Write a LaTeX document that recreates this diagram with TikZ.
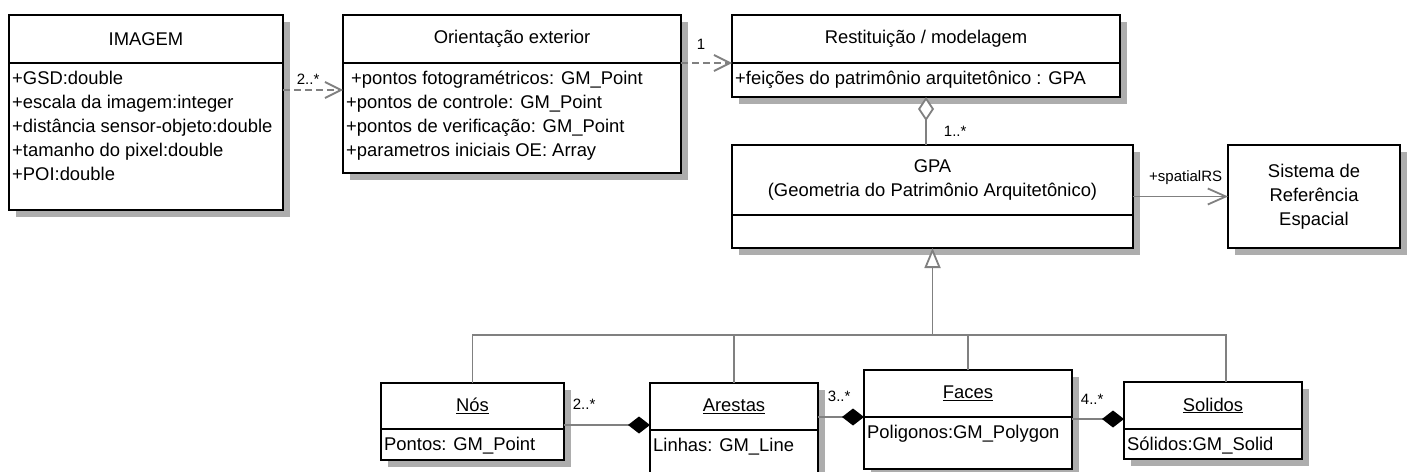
\documentclass[tikz,border=0pt]{standalone}
\usepackage{fontspec}
\setmainfont{Liberation Sans}
\usetikzlibrary{arrows.meta, positioning, backgrounds}

\begin{document}
\begin{tikzpicture}[
    x=1pt, y=-1pt,
    font=\fontsize{18.4}{24}\selectfont,
    box/.style={
        draw,
        line width=2.4pt,
        fill=white,
        inner sep=0pt,
        outer sep=0pt,
        anchor=north west
    },
    head/.style={box, align=center},
    attr/.style={anchor=north west, align=left, inner xsep=3pt, inner ysep=8pt},
    shadowbox/.style={fill=black!32, draw=none},
    mult/.style={font=\fontsize{15}{18}\selectfont, inner sep=1pt},
    link/.style={draw=black!50, line width=1.8pt},
    dep/.style={link, dash pattern=on 7pt off 4pt, -{Straight Barb[length=16pt, width=16pt]}},
    assoc/.style={link, -{Straight Barb[length=18pt, width=16pt]}},
    agg/.style={link, {Diamond[open, fill=white, length=24pt, width=16pt]}-},
    compo/.style={link, -{Diamond[color=black, fill=black, length=22pt, width=17pt]}},
    gen/.style={link, -{Triangle[open, fill=white, length=20pt, width=16pt]}}
]
\useasboundingbox (0,0) rectangle (1407,471);

% Classes, top row
\node[head, minimum width=274pt, minimum height=48pt] (imgHead) at (9,15) {IMAGEM};
\node[box, minimum width=274pt, minimum height=147pt] (imgBody) at (imgHead.south west) {};
\node[attr] (imgAttr) at (imgBody.north west) {+GSD:double\\+escala da imagem:integer\\+distância sensor-objeto:double\\+tamanho do pixel:double\\+POI:double};

\node[head, minimum width=338pt, minimum height=48pt] (orientHead) at (343,15) {Orientação exterior};
\node[box, minimum width=338pt, minimum height=110pt] (orientBody) at (orientHead.south west) {};
\node[attr] (orientAttr) at (orientBody.north west) {\hspace*{5pt}+pontos fotogramétricos: GM\_Point\\+pontos de controle: GM\_Point\\+pontos de verificação: GM\_Point\\+parametros iniciais OE: Array};

\node[head, minimum width=388pt, minimum height=48pt] (restHead) at (732,15) {Restituição / modelagem};
\node[box, minimum width=388pt, minimum height=34pt] (restBody) at (restHead.south west) {};
\node[attr] (restAttr) at (restBody.north west) {+feições do patrimônio arquitetônico : GPA};

% GPA and reference system
\node[head, minimum width=401pt, minimum height=70pt] (gpaHead) at (732,145) {GPA\\(Geometria do Patrimônio Arquitetônico)};
\node[box, minimum width=401pt, minimum height=33pt] (gpaBody) at (gpaHead.south west) {};

\node[head, minimum width=172pt, minimum height=103pt] (sre) at (1228,145) {Sistema de\\Referência\\Espacial};

% Geometric primitives
\node[head, minimum width=183pt, minimum height=46pt] (nosHead) at (381,383) {\underline{Nós}};
\node[box, minimum width=183pt, minimum height=31pt] (nosBody) at (nosHead.south west) {};
\node[attr] (nosAttr) at (nosBody.north west) {Pontos: GM\_Point};

\node[head, minimum width=168pt, minimum height=47pt] (arestasHead) at (650,383) {\underline{Arestas}};
\node[box, minimum width=168pt, minimum height=70pt] (arestasBody) at (arestasHead.south west) {};
\node[attr] (arestasAttr) at (arestasBody.north west) {Linhas: GM\_Line};

\node[head, minimum width=208pt, minimum height=47pt] (facesHead) at (864,370) {\underline{Faces}};
\node[box, minimum width=208pt, minimum height=52pt] (facesBody) at (facesHead.south west) {};
\node[attr] (facesAttr) at (facesBody.north west) {Poligonos:GM\_Polygon};

\node[head, minimum width=178pt, minimum height=47pt] (solHead) at (1124,382) {\underline{Solidos}};
\node[box, minimum width=178pt, minimum height=30pt] (solBody) at (solHead.south west) {};
\node[attr] (solAttr) at (solBody.north west) {Sólidos:GM\_Solid};

% Shadows
\begin{scope}[on background layer]
\foreach \top/\bot in {imgHead/imgBody, orientHead/orientBody, restHead/restBody, gpaHead/gpaBody, sre/sre, nosHead/nosBody, arestasHead/arestasBody, facesHead/facesBody, solHead/solBody}
    \fill[shadowbox] ([shift={(7,7)}]\top.north west) rectangle ([shift={(7,7)}]\bot.south east);
\end{scope}

% Dependencies
\coordinate (imgLink) at ([yshift=-27pt]imgHead.south east);
\draw[dep] (imgLink) -- (imgLink -| orientHead.west)
    node[mult, pos=0, anchor=south west, xshift=12pt, yshift=4pt] (mImg) {2..*};
\draw[dep] (orientHead.south east) -- (restHead.south west)
    node[mult, pos=0, anchor=south west, xshift=14pt, yshift=12pt] (mOrient) {1};

% Aggregation and association
\draw[agg] (restBody.south) -- (restBody.south |- gpaHead.north)
    node[mult, pos=1, anchor=south west, xshift=16pt, yshift=7pt] (mGpa) {1..*};
\draw[assoc] (gpaHead.east |- sre.west) -- (sre.west)
    node[mult, pos=1, anchor=south east, xshift=-4pt, yshift=10pt] (mRS) {+spatialRS};

% Generalization
\coordinate (bus) at (gpaBody.south |- 0,335);
\draw[gen] (bus) -- (gpaBody.south);
\foreach \cls in {nosHead, arestasHead, facesHead}
    \draw[link] (\cls.north) |- (bus);
\coordinate (solTop) at ([xshift=13pt]solHead.north);
\draw[link] (solTop) |- (bus);

% Compositions
\coordinate (nosLink) at ([yshift=4pt]nosHead.south east);
\draw[compo] (nosLink) -- (nosLink -| arestasHead.west)
    node[mult, pos=0, anchor=south west, xshift=7pt, yshift=14pt] (mNos) {2..*};
\draw[compo] (arestasHead.east |- facesHead.south west) -- (facesHead.south west)
    node[mult, pos=0, anchor=south west, xshift=8pt, yshift=13pt] (mArestas) {3..*};
\coordinate (solLink) at ([yshift=10pt]solHead.south west);
\draw[compo] (facesHead.east |- solLink) -- (solLink)
    node[mult, pos=0, anchor=south west, xshift=7pt, yshift=13pt] (mFaces) {4..*};

\end{tikzpicture}
\end{document}
